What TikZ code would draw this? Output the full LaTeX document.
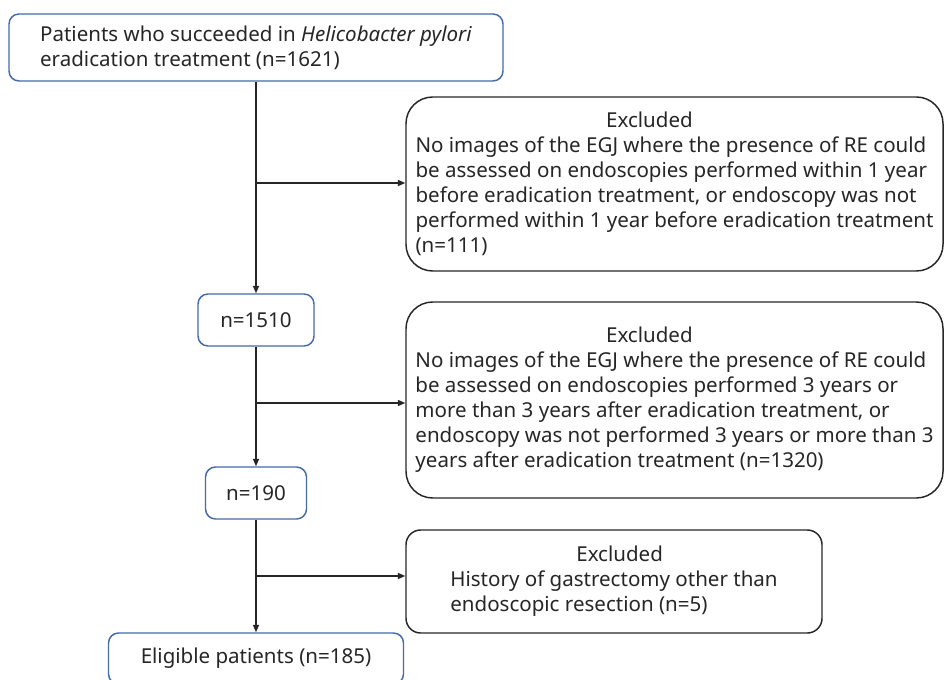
\documentclass[tikz,border=0pt]{standalone}
\usepackage{fontspec}
\setmainfont{Noto Sans}
\usetikzlibrary{arrows.meta}
\tikzset{>={Triangle[length=5.5pt,width=4.5pt]}}
\definecolor{boxblue}{RGB}{68,106,170}
\definecolor{ink}{RGB}{38,38,38}
\tikzset{
  flowbox/.style={draw=boxblue, line width=1.1pt, rounded corners=7.5pt, text=ink,
    align=center, font=\fontsize{15.4}{18.75}\selectfont},
  exclbox/.style={draw=ink, line width=1.1pt, rounded corners=20pt, text=ink,
    align=left, inner xsep=2pt, font=\fontsize{15.4}{18.75}\selectfont},
  link/.style={draw=ink, line width=1pt}
}

\begin{document}
\begin{tikzpicture}[x=0.75pt, y=-0.75pt]
    \useasboundingbox (0,0) rectangle (944,680);
    % main stream
    \node[flowbox, align=left, minimum width=370.5pt, minimum height=50.25pt] (start) at (256,47.5)
        {Patients who succeeded in \textit{Helicobacter pylori}\\eradication treatment (n=1621)};
    \node[flowbox, minimum width=87pt, minimum height=39pt] (n1510) at (256,320) {n=1510};
    \node[flowbox, minimum width=75.75pt, minimum height=39pt] (n190) at (256,493) {n=190};
    \node[flowbox, minimum width=221.25pt, minimum height=38.25pt] (elig) at (256,658.5) {Eligible patients (n=185)};
    % exclusions
    \node[exclbox, minimum width=402.75pt, minimum height=130.5pt] (exA) at (674.5,184)
        {\hspace*{143pt}Excluded\\
         No images of the EGJ where the presence of RE could\\
         be assessed on endoscopies performed within 1 year\\
         before eradication treatment, or endoscopy was not\\
         performed within 1 year before eradication treatment\\
         (n=111)};
    \node[exclbox, minimum width=402.75pt, minimum height=147pt] (exB) at (674.5,400)
        {\hspace*{143pt}Excluded\\
         No images of the EGJ where the presence of RE could\\
         be assessed on endoscopies performed 3 years or\\
         more than 3 years after eradication treatment, or\\
         endoscopy was not performed 3 years or more than 3\\
         years after eradication treatment (n=1320)};
    \node[exclbox, rounded corners=11pt, minimum width=312pt, minimum height=77.25pt] (exC) at (614,581.5)
        {\hspace*{94.5pt}Excluded\\
         History of gastrectomy other than\\
         endoscopic resection (n=5)};
    % branch points
    \coordinate (brA) at (257,183);
    \coordinate (brB) at (257,403);
    \coordinate (brC) at (257,576);
    \draw[link, ->] (start) -- (n1510);
    \draw[link, ->] (n1510) -- (n190);
    \draw[link, ->] (n190) -- (elig);
    \draw[link, ->] (brA) -- (brA -| exA.west);
    \draw[link, ->] (brB) -- (brB -| exB.west);
    \draw[link, ->] (brC) -- (brC -| exC.west);
\end{tikzpicture}
\end{document}
